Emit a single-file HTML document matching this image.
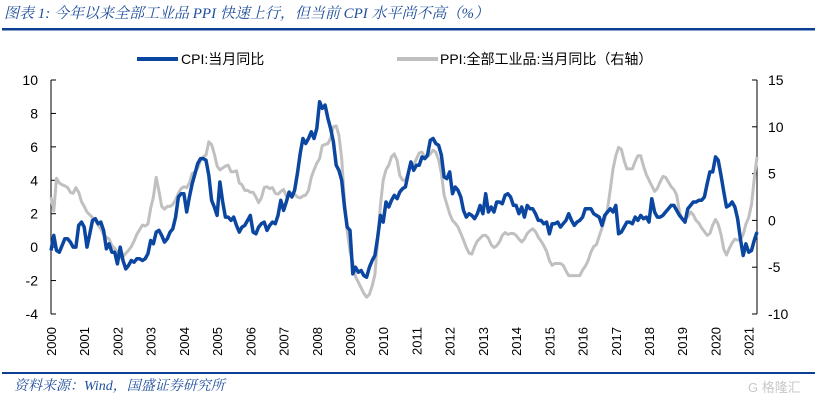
<!DOCTYPE html>
<html><head><meta charset="utf-8"><style>
body{margin:0;background:#fff;width:817px;height:404px;overflow:hidden;font-family:"Liberation Sans","Noto Sans CJK SC",sans-serif}
</style></head><body>
<svg width="817" height="404" xmlns="http://www.w3.org/2000/svg">
<text x="4" y="18" font-size="15" font-style="italic" fill="#1f4e9c" font-family="Liberation Serif,Noto Serif CJK SC,serif">图表 1:  今年以来全部工业品 PPI 快速上行，但当前 CPI 水平尚不高（%）</text>
<rect x="2" y="28" width="813" height="2.5" fill="#0b3f94"/>
<g>
<line x1="137" y1="59" x2="178" y2="59" stroke="#0b47a1" stroke-width="4"/>
<text x="181" y="64" font-size="14" fill="#000">CPI:当月同比</text>
<line x1="397" y1="59" x2="438" y2="59" stroke="#bfbfbf" stroke-width="4"/>
<text x="440" y="64" font-size="14" fill="#000">PPI:全部工业品:当月同比（右轴）</text>
</g>
<g id="axes"></g>
<g id="series"></g>
<rect x="2" y="372" width="813" height="2" fill="#0b3f94"/>
<text x="14" y="390" font-size="14" font-style="italic" fill="#1f4e9c" font-family="Liberation Serif,Noto Serif CJK SC,serif">资料来源：Wind，国盛证券研究所</text>
<text x="748" y="392" font-size="13" fill="#c8c8c8">G 格隆汇</text>
</svg>
<script>
const years=["2000","2001","2002","2003","2004","2005","2006","2007","2008","2009","2010","2011","2012","2013","2014","2015","2016","2017","2018","2019","2020","2021"];
const leftTicks=[10,8,6,4,2,0,-2,-4];
const rightTicks=[15,10,5,0,-5,-10];
const cpi=[-0.2,0.7,-0.2,-0.3,0.1,0.5,0.5,0.3,0.0,0.0,1.3,1.5,
1.2,0.0,0.8,1.6,1.7,1.4,1.5,1.0,-0.1,0.2,-0.3,-0.3,
-1.0,0.0,-0.8,-1.3,-1.1,-0.8,-0.9,-0.7,-0.7,-0.8,-0.7,-0.4,
0.4,0.2,0.9,1.0,0.7,0.3,0.5,0.9,1.1,1.8,3.0,3.2,
3.2,2.1,3.0,3.8,4.4,5.0,5.3,5.3,5.2,4.3,2.8,2.4,
1.9,3.9,2.7,1.8,1.8,1.6,1.8,1.3,0.9,1.2,1.3,1.6,
1.9,0.9,0.8,1.2,1.4,1.5,1.0,1.3,1.5,1.4,1.9,2.8,
2.2,2.7,3.3,3.0,3.4,4.4,5.6,6.5,6.2,6.5,6.9,6.5,
7.1,8.7,8.3,8.5,7.7,7.1,6.3,4.9,4.6,4.0,2.4,1.2,
1.0,-1.6,-1.2,-1.5,-1.4,-1.7,-1.8,-1.2,-0.8,-0.5,0.6,1.9,
1.5,2.7,2.4,2.8,3.1,2.9,3.3,3.5,3.6,4.4,5.1,4.6,
4.9,4.9,5.4,5.3,5.5,6.4,6.5,6.2,6.1,5.5,4.2,4.1,
4.5,3.2,3.6,3.4,3.0,2.2,1.8,2.0,1.9,1.7,2.0,2.5,
2.0,3.2,2.1,2.4,2.1,2.7,2.7,2.6,3.1,3.2,3.0,2.5,
2.5,2.0,2.4,1.8,2.5,2.3,2.3,2.0,1.6,1.6,1.4,1.5,
0.8,1.4,1.4,1.5,1.2,1.4,1.6,2.0,1.6,1.3,1.5,1.6,
1.8,2.3,2.3,2.3,2.0,1.9,1.8,1.3,1.9,2.1,2.3,2.1,
2.5,0.8,0.9,1.2,1.5,1.5,1.4,1.8,1.6,1.9,1.7,1.8,
1.5,2.9,2.1,1.8,1.8,1.9,2.1,2.3,2.5,2.5,2.2,1.9,
1.7,1.5,2.3,2.5,2.7,2.7,2.8,2.8,3.0,3.8,4.5,4.5,
5.4,5.2,4.3,3.3,2.4,2.5,2.7,2.4,1.7,0.5,-0.5,0.2,
-0.3,-0.2,0.4,0.9];
const ppi=[2.5,1.0,4.5,4.0,3.8,3.7,3.5,3.0,2.9,3.5,3.0,2.0,
1.5,0.9,0.6,0.3,0.0,-0.5,-0.9,-1.5,-1.8,-2.0,-2.7,-3.0,
-3.4,-4.0,-3.9,-3.5,-3.2,-2.8,-2.2,-1.5,-1.0,-0.5,-0.6,-0.4,
1.3,2.5,4.6,3.1,1.5,1.2,1.5,1.5,1.7,2.2,2.9,3.4,
3.6,3.5,4.0,5.0,5.2,5.6,6.4,6.8,7.0,8.4,8.1,7.1,
5.8,5.4,5.6,5.8,5.9,5.2,5.2,5.3,4.0,3.8,3.2,3.2,
3.0,3.0,2.5,1.9,2.4,3.5,3.6,3.4,3.5,2.9,2.8,3.1,
3.3,2.6,2.7,2.9,2.8,2.5,2.4,2.6,2.7,3.2,4.6,5.4,
6.1,6.6,8.0,8.1,8.2,8.8,10.0,10.1,9.1,6.6,2.0,-1.1,
-3.3,-4.5,-6.0,-6.6,-7.2,-7.8,-8.2,-7.9,-7.0,-5.8,-2.1,1.7,
4.3,5.4,5.9,6.8,7.1,6.4,4.8,4.3,4.3,5.0,6.1,5.9,
6.6,7.2,7.3,6.8,6.8,7.1,7.5,7.3,6.5,5.0,2.7,1.7,
0.7,0.0,-0.3,-0.7,-1.4,-2.1,-2.9,-3.5,-3.6,-2.8,-2.2,-1.9,
-1.6,-1.6,-1.9,-2.6,-2.9,-2.7,-2.3,-1.6,-1.3,-1.5,-1.4,-1.4,
-1.6,-2.0,-2.3,-2.0,-1.4,-1.1,-0.9,-1.2,-1.8,-2.2,-2.7,-3.3,
-4.3,-4.8,-4.6,-4.6,-4.6,-4.8,-5.4,-5.9,-5.9,-5.9,-5.9,-5.9,
-5.3,-4.9,-4.3,-3.4,-2.8,-2.6,-1.7,-0.8,0.1,1.2,3.3,5.5,
6.9,7.8,7.6,6.4,5.5,5.5,5.5,6.3,6.9,6.9,5.8,4.9,
4.3,3.7,3.1,3.4,4.1,4.7,4.6,4.1,3.6,3.3,2.7,0.9,
0.1,0.1,0.4,0.9,0.6,0.0,-0.3,-0.8,-1.2,-1.6,-1.4,-0.5,
0.1,-0.4,-1.5,-3.1,-3.7,-3.0,-2.4,-2.0,-2.1,-2.1,-1.5,-0.4,
0.3,1.7,4.4,6.8];
const NS="http://www.w3.org/2000/svg";
const X0=51,X1=757,YT=80,YB=314;
const n=Math.max(cpi.length,ppi.length);
function xAt(i){return X0+i*(X1-X0)/(n-1);}
function xYear(k){return X0+k*12*(X1-X0)/(n-1);}
function yL(v){return YB-(v-(-4))*(YB-YT)/14;}
function yR(v){return YB-(v-(-10))*(YB-YT)/25;}
function mk(tag,attrs,parent,txt){const e=document.createElementNS(NS,tag);for(const k in attrs)e.setAttribute(k,attrs[k]);if(txt!==undefined)e.textContent=txt;parent.appendChild(e);return e;}
const ax=document.getElementById('axes');
const la=mk('line',{x1:X0,y1:YT,x2:X0,y2:YB,stroke:'#000','stroke-width':1},ax);


const ra=mk('line',{x1:X1,y1:YT,x2:X1,y2:YB,stroke:'#000','stroke-width':1},ax);


leftTicks.forEach(v=>{const y=yL(v);
mk('line',{x1:X0,y1:y,x2:X0+5,y2:y,stroke:'#000'},ax);
const t=mk('text',{x:38,y:y+5,'font-size':14,'text-anchor':'end',fill:'#000'},ax,String(v));

});
rightTicks.forEach(v=>{const y=yR(v);
mk('line',{x1:X1-5,y1:y,x2:X1,y2:y,stroke:'#000'},ax);
const t=mk('text',{x:768,y:y+5,'font-size':14,'text-anchor':'start',fill:'#000'},ax,String(v));

});
years.forEach((yr,k)=>{const x=xYear(k);
const t=mk('text',{x:0,y:0,'font-size':13,'text-anchor':'end',fill:'#000',transform:`translate(${x+5},327) rotate(-90)`},ax,yr);

});
const sg=document.getElementById('series');
const pp=mk('polyline',{points:ppi.map((v,i)=>xAt(i).toFixed(1)+','+yR(v).toFixed(1)).join(' '),fill:'none',stroke:'#c0c0c0','stroke-width':3,'stroke-linejoin':'round'},sg);


const cp=mk('polyline',{points:cpi.map((v,i)=>xAt(i).toFixed(1)+','+yL(v).toFixed(1)).join(' '),fill:'none',stroke:'#0b47a1','stroke-width':3.5,'stroke-linejoin':'round'},sg);


</script>
</body></html>
